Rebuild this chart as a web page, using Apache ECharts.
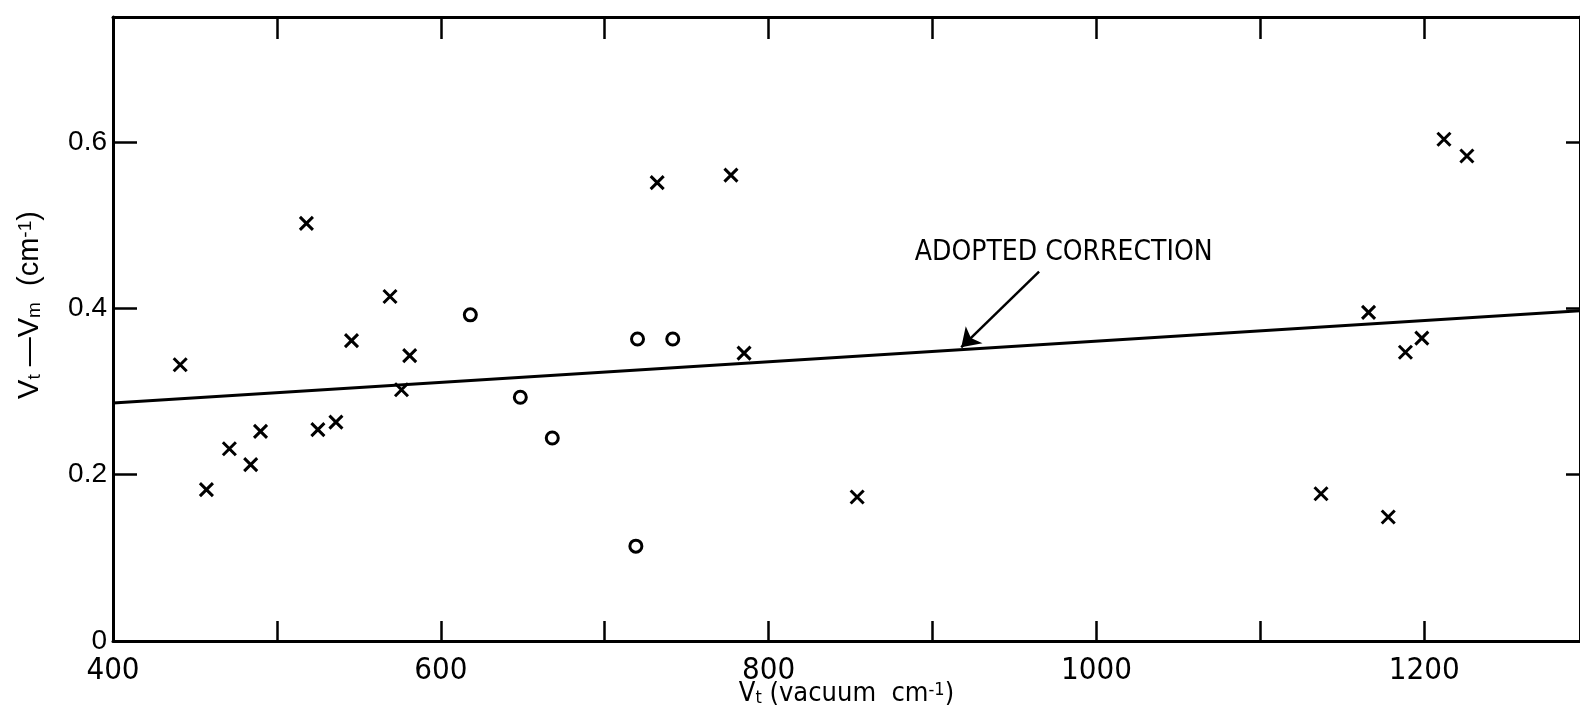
<!doctype html>
<html>
<head>
    <title>Adopted correction</title>
    <script src="https://cdn.jsdelivr.net/npm/echarts@6/dist/echarts.min.js"></script>
</head>
<style>
    html, body { margin: 0; padding: 0; background: #fff; }
    #chart { width: 1580px; height: 722px; }
</style>
<body>
<div id="chart"></div>
<script>
  // measured points, x = Vt (vacuum cm-1), y = Vt - Vm (cm-1)
  var crossX = [441, 457, 471, 484, 490, 518, 525, 536, 545.5, 569, 576, 581,
                732, 777, 785, 854, 1137, 1166, 1178, 1188.5, 1198.5, 1212, 1226];
  var crossY = [0.332, 0.182, 0.231, 0.212, 0.252, 0.502, 0.254, 0.263, 0.361, 0.414, 0.302, 0.343,
                0.551, 0.560, 0.346, 0.173, 0.177, 0.395, 0.149, 0.347, 0.364, 0.603, 0.583];
  var circleX = [618, 648.5, 668, 719, 720, 741.5];
  var circleY = [0.392, 0.293, 0.244, 0.114, 0.363, 0.363];

  // adopted correction line (end points)
  var correctionX = [400, 1295];
  var correctionY = [0.286, 0.397];

  // annotation
  var annotationText = 'ADOPTED CORRECTION';
  var annotationAt = [980, 0.467];
  var arrowFrom = [965, 0.444];
  var arrowTo = [917.5, 0.353];

  var xLabelValues = [400, 600, 800, 1000, 1200];
  var yLabelValues = [0, 0.2, 0.4, 0.6];

  function pairs(xs, ys) {
    return xs.map(function (x, i) { return [x, ys[i]]; });
  }

  var narrow = "'Liberation Sans Narrow', 'DejaVu Sans Condensed', 'Liberation Sans', sans-serif";
  var wide = "'Liberation Sans', Arial, sans-serif";

  var myChart = echarts.init(document.getElementById('chart'));

  var frameLine = { show: true, onZero: false, lineStyle: { color: '#000', width: 3 } };

  var option = {
    animation: false,
    backgroundColor: '#fff',
    grid: {
      left: 113,
      right: 0,
      top: 17,
      bottom: 81,
      containLabel: false,
      outerBoundsMode: 'none'
    },
    xAxis: [{
      type: 'value',
      position: 'bottom',
      min: 400,
      max: 1295,
      interval: 100,
      axisLine: frameLine,
      axisTick: { inside: true, length: 20, lineStyle: { color: '#000', width: 2.5 } },
      splitLine: { show: false },
      axisLabel: {
        margin: 2,
        fontFamily: narrow,
        fontSize: 31,
        color: '#000',
        showMaxLabel: false,
        formatter: function (v) {
          return xLabelValues.indexOf(v) >= 0 ? String(v) : '';
        }
      },
      name: '{n|V}{sub|t}{n| (vacuum  cm}{sup|-1}{n|)}',
      nameLocation: 'middle',
      nameGap: 33,
      nameMoveOverlap: false,
      nameTextStyle: {
        rich: {
          n: { fontFamily: narrow, fontSize: 27, color: '#000', lineHeight: 40 },
          sub: { fontFamily: narrow, fontSize: 18, color: '#000', verticalAlign: 'bottom', lineHeight: 14 },
          sup: { fontFamily: narrow, fontSize: 18, color: '#000', verticalAlign: 'top', lineHeight: 22 }
        }
      }
    }, {
      type: 'value',
      position: 'top',
      min: 400,
      max: 1295,
      interval: 100,
      axisLine: frameLine,
      axisTick: { inside: true, length: 22, lineStyle: { color: '#000', width: 2.5 } },
      axisLabel: { show: false },
      splitLine: { show: false }
    }],
    yAxis: [{
      type: 'value',
      position: 'left',
      min: 0,
      max: 0.75,
      interval: 0.2,
      axisLine: frameLine,
      axisTick: { inside: true, length: 24, lineStyle: { color: '#000', width: 2.5 } },
      splitLine: { show: false },
      axisLabel: {
        margin: 6,
        fontFamily: wide,
        fontSize: 28,
        color: '#000',
        showMaxLabel: false,
        formatter: function (v) {
          var r = Math.round(v * 10) / 10;
          return yLabelValues.indexOf(r) >= 0 ? String(r) : '';
        }
      }
    }, {
      type: 'value',
      position: 'right',
      min: 0,
      max: 0.75,
      interval: 0.2,
      axisLine: frameLine,
      axisTick: { inside: true, length: 14, lineStyle: { color: '#000', width: 2.5 } },
      axisLabel: { show: false },
      splitLine: { show: false }
    }],
    graphic: [{
      type: 'text',
      x: 30,
      y: 305,
      rotation: Math.PI / 2,
      style: {
        text: '{n|V}{sub|t}{n| \u2014V}{sub|m}{n|  (cm}{sup|-1}{n|)}',
        align: 'center',
        verticalAlign: 'middle',
        rich: {
          n: { fontFamily: wide, fontSize: 29, fill: '#000', lineHeight: 42 },
          sub: { fontFamily: wide, fontSize: 19, fill: '#000', verticalAlign: 'bottom', lineHeight: 14 },
          sup: { fontFamily: wide, fontSize: 19, fill: '#000', verticalAlign: 'top', lineHeight: 22 }
        }
      }
    }],
    series: [{
      name: 'correction',
      type: 'line',
      data: pairs(correctionX, correctionY),
      showSymbol: false,
      symbol: 'none',
      lineStyle: { color: '#000', width: 3 },
      silent: true,
      markLine: {
        silent: true,
        symbol: ['none', 'arrow'],
        symbolSize: 18,
        lineStyle: { color: '#000', width: 2.5, type: 'solid' },
        label: { show: false },
        data: [[{ coord: arrowFrom }, { coord: arrowTo }]]
      }
    }, {
      name: 'x',
      type: 'scatter',
      data: pairs(crossX, crossY),
      symbol: 'path://M0,0L10,10M10,0L0,10',
      symbolSize: 13,
      itemStyle: { color: 'none', borderColor: '#000', borderWidth: 3, opacity: 1 }
    }, {
      name: 'o',
      type: 'scatter',
      data: pairs(circleX, circleY),
      symbol: 'circle',
      symbolSize: 12,
      itemStyle: { color: '#fff', borderColor: '#000', borderWidth: 3, opacity: 1 }
    }, {
      name: 'label',
      type: 'scatter',
      data: [annotationAt],
      symbolSize: 1,
      itemStyle: { color: 'rgba(0,0,0,0)', opacity: 1 },
      label: {
        show: true,
        position: 'inside',
        formatter: annotationText,
        fontFamily: narrow,
        fontSize: 28,
        color: '#000',
        opacity: 1
      },
      silent: true
    }]
  };

  myChart.setOption(option);
</script>
</body>
</html>
